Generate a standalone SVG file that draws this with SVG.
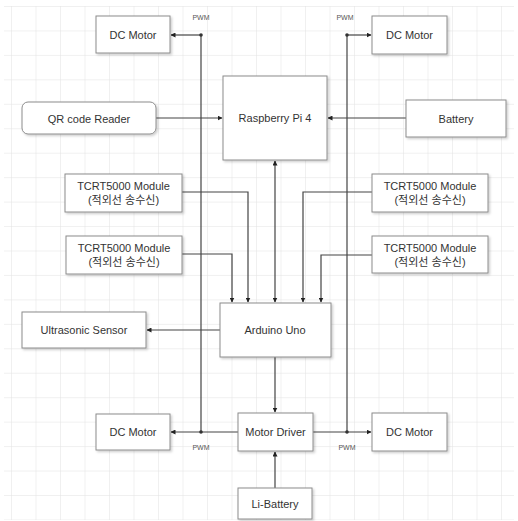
<svg xmlns="http://www.w3.org/2000/svg" width="518" height="521" viewBox="0 0 518 521">
<defs>
<pattern id="grid" patternUnits="userSpaceOnUse" x="11" y="6" width="24.5" height="24.45">
<path d="M0 0 H24.5 M0 0 V24.45" fill="none" stroke="#e2e2e2" stroke-width="1"/>
</pattern>
<filter id="sh" x="-10%" y="-10%" width="130%" height="140%">
<feDropShadow dx="1.5" dy="1.5" stdDeviation="1" flood-color="#000" flood-opacity="0.2"/>
</filter>
<marker id="ah" viewBox="0 0 10 10" refX="9" refY="5" markerWidth="5" markerHeight="5" orient="auto-start-reverse" markerUnits="userSpaceOnUse">
<path d="M0 0 L10 5 L0 10 z" fill="#222"/>
</marker>
</defs>
<style>
.box{fill:#fff;stroke:#8c8c8c;stroke-width:1;filter:url(#sh)}
.t{font-family:"Liberation Sans",Arial,"Noto Sans CJK KR",sans-serif;font-size:11px;fill:#333;text-anchor:middle;dominant-baseline:central}
.pwm{font-family:"Liberation Sans",Arial,sans-serif;font-size:7px;fill:#555;text-anchor:middle;dominant-baseline:central}
.ln{fill:none;stroke:#444;stroke-width:1.2}
.arr{marker-end:url(#ah)}
.dot{fill:#333}
</style>
<rect x="0" y="0" width="518" height="521" fill="#fff"/>
<rect x="4" y="6" width="510" height="514" fill="url(#grid)"/>

<g id="connectors">
<!-- left vertical bus -->
<path class="ln" d="M201 432 V35"/>
<path class="ln arr" d="M201 35 H171"/>
<circle class="dot" cx="201" cy="35" r="1.8"/>
<!-- right vertical bus -->
<path class="ln" d="M347 432 V35"/>
<path class="ln arr" d="M347 35 H371"/>
<circle class="dot" cx="347" cy="35" r="1.8"/>
<!-- QR -> RPi -->
<path class="ln arr" d="M156 118 H222"/>
<!-- Battery -> RPi -->
<path class="ln arr" d="M406 118 H328"/>
<!-- RPi <-> Arduino -->
<path class="ln arr" d="M275 161 V302" marker-start="url(#ah)"/>
<!-- TCRT left 1 -->
<path class="ln arr" d="M182 192 H248 V302"/>
<!-- TCRT left 2 -->
<path class="ln arr" d="M182 254 H232 V302"/>
<!-- TCRT right 1 -->
<path class="ln arr" d="M372 192 H303 V302"/>
<!-- TCRT right 2 -->
<path class="ln arr" d="M372 255 H321 V302"/>
<!-- Arduino -> Ultrasonic -->
<path class="ln arr" d="M220 330 H147"/>
<!-- Arduino -> Motor Driver -->
<path class="ln arr" d="M275 357 V412"/>
<!-- Li-Battery -> Motor Driver -->
<path class="ln arr" d="M275 488 V452"/>
<!-- Motor Driver -> DC Motors -->
<path class="ln arr" d="M238 432 H171"/>
<circle class="dot" cx="201" cy="432" r="1.8"/>
<path class="ln arr" d="M313 432 H371"/>
<circle class="dot" cx="347" cy="432" r="1.8"/>
<text class="pwm" x="201" y="17">PWM</text>
<text class="pwm" x="345" y="17">PWM</text>
<text class="pwm" x="201" y="447">PWM</text>
<text class="pwm" x="347" y="447">PWM</text>
</g>

<g id="dcmotor-tl"><rect class="box" x="96" y="16" width="74" height="37"/><text class="t" x="133" y="34.5">DC Motor</text></g>
<g id="dcmotor-tr"><rect class="box" x="372" y="16" width="75" height="38"/><text class="t" x="409.5" y="35">DC Motor</text></g>
<g id="qr-reader"><rect class="box" x="22" y="102" width="134" height="32" rx="6"/><text class="t" x="89" y="118.5">QR code Reader</text></g>
<g id="raspberry"><rect class="box" x="223" y="76" width="104" height="84"/><text class="t" x="275" y="118">Raspberry Pi 4</text></g>
<g id="battery"><rect class="box" x="406" y="100" width="100" height="37"/><text class="t" x="456" y="118.5">Battery</text></g>
<g id="tcrt-l1"><rect class="box" x="65" y="174" width="117" height="38"/><text class="t" x="123.5" y="186">TCRT5000 Module</text><text class="t" x="123.5" y="200">(적외선 송수신)</text></g>
<g id="tcrt-l2"><rect class="box" x="66" y="236" width="116" height="38"/><text class="t" x="124" y="248">TCRT5000 Module</text><text class="t" x="124" y="262">(적외선 송수신)</text></g>
<g id="tcrt-r1"><rect class="box" x="372" y="174" width="116" height="38"/><text class="t" x="430" y="186">TCRT5000 Module</text><text class="t" x="430" y="200">(적외선 송수신)</text></g>
<g id="tcrt-r2"><rect class="box" x="372" y="236" width="116" height="37"/><text class="t" x="430" y="248">TCRT5000 Module</text><text class="t" x="430" y="262">(적외선 송수신)</text></g>
<g id="ultrasonic"><rect class="box" x="22" y="312" width="124" height="36"/><text class="t" x="84" y="330">Ultrasonic Sensor</text></g>
<g id="arduino"><rect class="box" x="220" y="303" width="111" height="54"/><text class="t" x="275" y="330">Arduino Uno</text></g>
<g id="dcmotor-bl"><rect class="box" x="96" y="414" width="74" height="36"/><text class="t" x="133" y="432">DC Motor</text></g>
<g id="motor-driver"><rect class="box" x="238" y="413" width="75" height="38"/><text class="t" x="275.5" y="432">Motor Driver</text></g>
<g id="dcmotor-br"><rect class="box" x="372" y="413" width="75" height="38"/><text class="t" x="409.5" y="432">DC Motor</text></g>
<g id="li-battery"><rect class="box" x="238" y="488" width="74" height="31"/><text class="t" x="275" y="504">Li-Battery</text></g>
</svg>
